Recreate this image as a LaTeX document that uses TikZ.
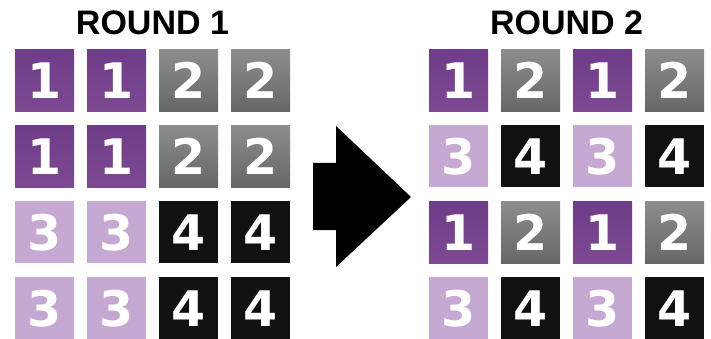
\documentclass[tikz,border=0pt]{standalone}
\usepackage{fontspec}
\setmainfont{Liberation Sans}
\newfontfamily\digitfont{DejaVu Sans}
\definecolor{pTop}{HTML}{6E3C88}
\definecolor{pBot}{HTML}{7D4993}
\definecolor{lPurple}{HTML}{C5A9D3}
\definecolor{gLight}{HTML}{A0A0A0}
\definecolor{gDark}{HTML}{525454}
\definecolor{tBlack}{HTML}{111111}
\begin{document}
\begin{tikzpicture}[x=1pt,y=-1pt,
  tile/.style={minimum width=59pt, minimum height=62pt, inner sep=0pt, anchor=north west,
    text=white, font=\digitfont\fontsize{49}{49}\bfseries\selectfont},
  tone/.style={tile, top color=pTop, bottom color=pBot},
  ttwo/.style={tile, path picture={\shade[top color=gLight, bottom color=gDark]
      ([yshift=31pt]path picture bounding box.north west) rectangle
      ([yshift=-31pt]path picture bounding box.south east);}},
  tthree/.style={tile, fill=lPurple},
  tfour/.style={tile, fill=tBlack},
  title/.style={font=\fontsize{34}{34}\bfseries\selectfont, inner sep=0pt}]
\useasboundingbox (0,0) rectangle (711,339);
\node[title] (t1) at (152.5,23) {ROUND 1};
\node[title] (t2) at (566.5,23) {ROUND 2};
% Round 1
\foreach \r/\y in {1/49,2/125,3/201,4/277}{
  \foreach \c/\x in {1/15,2/87,3/159,4/231}{
    \pgfmathtruncatemacro{\v}{\r<3 ? (\c<3 ? 1 : 2) : (\c<3 ? 3 : 4)}
    \ifcase\v\or
      \node[tone] (a\r\c) at (\x,\y) {1};\or
      \node[ttwo] (a\r\c) at (\x,\y) {2};\or
      \node[tthree] (a\r\c) at (\x,\y) {3};\or
      \node[tfour] (a\r\c) at (\x,\y) {4};\fi
  }
}
% Round 2
\foreach \r/\y in {1/49,2/125,3/201,4/277}{
  \foreach \c/\x in {1/429,2/501,3/573,4/645}{
    \pgfmathtruncatemacro{\v}{mod(\r,2)==1 ? (mod(\c,2)==1 ? 1 : 2) : (mod(\c,2)==1 ? 3 : 4)}
    \ifcase\v\or
      \node[tone] (b\r\c) at (\x,\y) {1};\or
      \node[ttwo] (b\r\c) at (\x,\y) {2};\or
      \node[tthree] (b\r\c) at (\x,\y) {3};\or
      \node[tfour] (b\r\c) at (\x,\y) {4};\fi
  }
}
% Arrow
\fill[black] (313,163) -- (336,163) -- (336,126) -- (411,197) -- (336,267) -- (336,230) -- (313,230) -- cycle;
\end{tikzpicture}
\end{document}
